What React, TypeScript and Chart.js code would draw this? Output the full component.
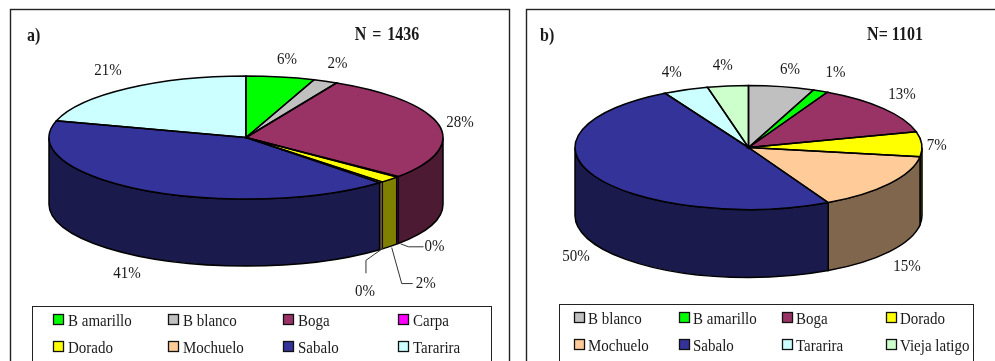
import { useEffect, useRef } from "react";
import { Chart, registerables } from "chart.js";

Chart.register(...registerables);

// Catch composition, per cent of the sample
const categoriesA = ["B amarillo", "B blanco", "Boga", "Carpa", "Dorado", "Mochuelo", "Sabalo", "Tararira"];
const valuesA = [5.6, 2.0, 28.3, 0.2, 1.7, 0.3, 41.2, 20.6];

const categoriesB = ["B blanco", "B amarillo", "Boga", "Dorado", "Mochuelo", "Sabalo", "Tararira", "Vieja latigo"];
const valuesB = [6.1, 1.4, 13.4, 6.5, 15.0, 49.6, 4.2, 3.8];

const speciesColours: Record<string, string> = {
  "B amarillo": "#00FF00",
  "B blanco": "#C0C0C0",
  Boga: "#993366",
  Carpa: "#FF00FF",
  Dorado: "#FFFF00",
  Mochuelo: "#FFCC99",
  Sabalo: "#333399",
  Tararira: "#CCFFFF",
  "Vieja latigo": "#CCFFCC",
};

const FONT = '"Liberation Serif", "Times New Roman", serif';
const INK = "#1a1a1a";
const TEXT_STRETCH = 1.18;
const OUTLINE = 1.5;

type Panel = {
  tag: string;
  sample: string;
  sampleWordGap: string;
  width: number;
  height: number;
  frame: { x: number; y: number; w: number; h: number };
  tagPos: [number, number];
  samplePos: [number, number];
  cx: number;
  cy: number;
  rx: number;
  ry: number;
  depth: number;
  labelOffsets: [number, number][];
  leaders: ([number, number][] | null)[];
  legendBox: { x: number; y: number; w: number; h: number };
  legendCols: number[];
  legendRows: number[];
  legendTextGap: number;
};

const panelA: Panel = {
  tag: "a)",
  sample: "N = 1436",
  sampleWordGap: "2px",
  width: 517,
  height: 361,
  frame: { x: 10.5, y: 9.5, w: 499, h: 400 },
  tagPos: [27, 36],
  samplePos: [387, 35],
  cx: 246,
  cy: 137.5,
  rx: 197,
  ry: 61.5,
  depth: 67,
  labelOffsets: [
    [6.5, -18], [12, -18], [21, -3], [37, 3], [36, 37], [-16, 42], [-16, 16], [-19, -18],
  ],
  leaders: [
    null, null, null,
    [[3, 0], [11, 3], [26, 3]],
    [[2, 1], [12, 37], [23, 37]],
    [[2, -1], [-15, 11], [-15, 24]],
    null, null,
  ],
  legendBox: { x: 32.5, y: 306.5, w: 459, h: 100 },
  legendCols: [53, 168, 283, 398],
  legendRows: [320, 347],
  legendTextGap: 15,
};

const panelB: Panel = {
  tag: "b)",
  sample: "N= 1101",
  sampleWordGap: "0px",
  width: 478,
  height: 361,
  frame: { x: 9.5, y: 9.5, w: 600, h: 400 },
  tagPos: [23, 36],
  samplePos: [378, 35],
  cx: 231.5,
  cy: 147.5,
  rx: 173.5,
  ry: 62,
  depth: 68,
  labelOffsets: [
    [8.5, -17], [15, -19], [18.5, -14], [15, 1.5], [17.5, 15], [-19.5, 12], [-14, -17], [-5, -21],
  ],
  leaders: [null, null, null, null, null, null, null, null],
  legendBox: { x: 42.5, y: 304.5, w: 414, h: 100 },
  legendCols: [57, 162, 265, 369],
  legendRows: [318, 345],
  legendTextGap: 14,
};

const darken = (hex: string) => {
  const n = parseInt(hex.slice(1), 16);
  const half = (v: number) => Math.round(v / 2);
  return `rgb(${half((n >> 16) & 255)},${half((n >> 8) & 255)},${half(n & 255)})`;
};

// Serif captions are set slightly tall and narrow.
const tallText = (ctx: CanvasRenderingContext2D, text: string, x: number, y: number) => {
  ctx.save();
  ctx.translate(x, y);
  ctx.scale(1, TEXT_STRETCH);
  ctx.fillText(text, 0, 0);
  ctx.restore();
};

// Extrudes a flattened pie: walls go under the arcs, outlines and text go over them.
const tiltedPie = (panel: Panel) => ({
  id: "tiltedPie",
  beforeDraw(chart: any) {
    const { ctx } = chart;
    const { frame, legendBox: box } = panel;
    ctx.save();
    ctx.fillStyle = "#fff";
    ctx.fillRect(0, 0, panel.width, panel.height);
    ctx.strokeStyle = "#222";
    ctx.lineWidth = 1.4;
    ctx.strokeRect(frame.x, frame.y, frame.w, frame.h);
    ctx.lineWidth = 1;
    ctx.strokeRect(box.x, box.y, box.w, box.h);
    ctx.restore();
  },
  beforeDatasetDraw(chart: any) {
    const { ctx } = chart;
    const { cx, cy, rx, ry, depth } = panel;
    const colours = chart.data.datasets[0].backgroundColor as string[];
    ctx.save();
    ctx.lineWidth = OUTLINE;
    ctx.strokeStyle = "#000";
    chart.getDatasetMeta(0).data.forEach((arc: any, i: number) => {
      const from = Math.max(arc.startAngle, 0);
      const to = Math.min(arc.endAngle, Math.PI);
      if (to <= from) return;
      ctx.beginPath();
      ctx.ellipse(cx, cy, rx, ry, 0, from, to);
      ctx.ellipse(cx, cy + depth, rx, ry, 0, to, from, true);
      ctx.closePath();
      ctx.fillStyle = darken(colours[i]);
      ctx.fill();
      ctx.lineWidth = to - from < 0.05 ? 0.8 : OUTLINE;
      ctx.stroke();
    });
    ctx.restore();

    // The library draws circular arcs; flatten them about the pie's centre.
    ctx.save();
    ctx.translate(cx, cy);
    ctx.scale(1, ry / rx);
    ctx.translate(-cx, -cy);
  },
  afterDatasetDraw(chart: any) {
    const { ctx } = chart;
    ctx.restore();
    const { cx, cy, rx, ry, depth } = panel;
    const values = chart.data.datasets[0].data as number[];
    ctx.save();
    chart.getDatasetMeta(0).data.forEach((arc: any, i: number) => {
      ctx.beginPath();
      ctx.moveTo(cx, cy);
      ctx.ellipse(cx, cy, rx, ry, 0, arc.startAngle, arc.endAngle);
      ctx.closePath();
      ctx.strokeStyle = "#000";
      ctx.lineWidth = arc.endAngle - arc.startAngle < 0.05 ? 0.8 : OUTLINE;
      ctx.stroke();

      const mid = (arc.startAngle + arc.endAngle) / 2;
      const ax = cx + rx * Math.cos(mid);
      const ay = cy + ry * Math.sin(mid) + (Math.sin(mid) > 0 ? depth : 0);

      const leader = panel.leaders[i];
      if (leader) {
        ctx.beginPath();
        leader.forEach(([dx, dy], k) => {
          if (k === 0) ctx.moveTo(ax + dx, ay + dy);
          else ctx.lineTo(ax + dx, ay + dy);
        });
        ctx.strokeStyle = "#333";
        ctx.lineWidth = 1;
        ctx.stroke();
      }

      const [ox, oy] = panel.labelOffsets[i];
      ctx.font = `15px ${FONT}`;
      ctx.fillStyle = INK;
      ctx.textAlign = "center";
      ctx.textBaseline = "middle";
      tallText(ctx, `${Math.round(values[i])}%`, ax + ox, ay + oy);
    });
    ctx.restore();
  },
  afterDraw(chart: any) {
    const { ctx } = chart;
    const labels = chart.data.labels as string[];
    const colours = chart.data.datasets[0].backgroundColor as string[];
    ctx.save();
    ctx.textBaseline = "middle";
    ctx.textAlign = "left";
    ctx.fillStyle = INK;
    ctx.font = `bold 16px ${FONT}`;
    tallText(ctx, panel.tag, panel.tagPos[0], panel.tagPos[1]);
    ctx.textAlign = "center";
    ctx.wordSpacing = panel.sampleWordGap;
    tallText(ctx, panel.sample, panel.samplePos[0], panel.samplePos[1]);
    ctx.wordSpacing = "0px";
    ctx.textAlign = "left";
    ctx.font = `15px ${FONT}`;
    labels.forEach((label, i) => {
      const col = i % 4;
      const row = Math.floor(i / 4);
      const x = panel.legendCols[col];
      const y = panel.legendRows[row];
      ctx.fillStyle = colours[i];
      ctx.fillRect(x + 0.5, y - 5.5, 10, 10);
      ctx.strokeStyle = "#111";
      ctx.lineWidth = 1.3;
      ctx.strokeRect(x + 0.5, y - 5.5, 10, 10);
      ctx.fillStyle = INK;
      tallText(ctx, label, x + panel.legendTextGap, y + 1);
    });
    ctx.restore();
  },
});

function PiePanel({ panel, categories, values }: { panel: Panel; categories: string[]; values: number[] }) {
  const ref = useRef<HTMLCanvasElement>(null);
  useEffect(() => {
    if (!ref.current) return;
    const chart = new Chart(ref.current, {
      type: "pie",
      data: {
        labels: categories,
        datasets: [
          {
            data: values,
            backgroundColor: categories.map((c) => speciesColours[c]),
            borderWidth: 0,
            radius: panel.rx,
            clip: false,
          } as any,
        ],
      },
      options: {
        animation: false,
        responsive: false,
        events: [],
        layout: {
          padding: {
            left: Math.max(2 * panel.cx - panel.width, 0),
            right: Math.max(panel.width - 2 * panel.cx, 0),
            top: 0,
            bottom: panel.height - 2 * panel.cy,
          },
        },
        plugins: { legend: { display: false }, title: { display: false }, tooltip: { enabled: false } },
      },
      plugins: [tiltedPie(panel)],
    });
    return () => chart.destroy();
  }, [panel, categories, values]);
  return (
    <canvas ref={ref} width={panel.width} height={panel.height} style={{ display: "block", width: panel.width, height: panel.height }} />
  );
}

export default function App() {
  return (
    <div
      style={{
        position: "absolute",
        left: 0,
        top: 0,
        width: 995,
        height: 361,
        overflow: "hidden",
        background: "#fff",
        display: "flex",
      }}
    >
      <PiePanel panel={panelA} categories={categoriesA} values={valuesA} />
      <PiePanel panel={panelB} categories={categoriesB} values={valuesB} />
    </div>
  );
}
